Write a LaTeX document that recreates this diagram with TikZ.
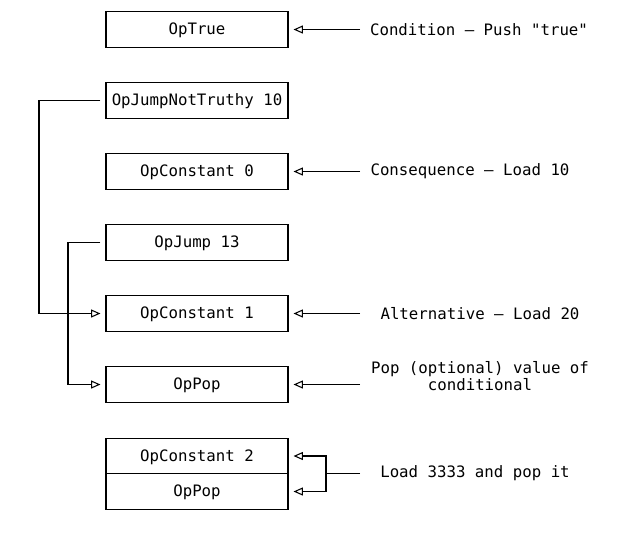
\documentclass[tikz,border=0pt]{standalone}
\usepackage{fontspec}
\setmainfont{DejaVu Sans Mono}
\usetikzlibrary{arrows.meta}
\tikzset{
  op/.style={draw, line width=0.8pt, minimum width=136.5pt, minimum height=26.6pt, inner sep=0pt, text height=0.9em, text depth=0.1em},
  jmp/.style={line width=0.8pt, -{Triangle[open,length=7pt,width=6pt]}},
}
\begin{document}
\begin{tikzpicture}[x=0.75pt,y=-0.75pt,font=\fontsize{11.8}{12.75}\selectfont]
\useasboundingbox (0,0) rectangle (638,537);
\node[op] (I1) at (197,29.5) {OpTrue};
\node[op] (I2) at (197,100.5) {OpJumpNotTruthy 10};
\node[op] (I3) at (197,171.5) {OpConstant 0};
\node[op] (I4) at (197,242.5) {OpJump 13};
\node[op] (I5) at (197,313.5) {OpConstant 1};
\node[op] (I6) at (197,384.5) {OpPop};
\node[op] (I7) at (197,456) {OpConstant 2};
\node[op] (I8) at (197,491.5) {OpPop};
\coordinate (L2) at (39,100.5);
\coordinate (L4) at (68,242.5);
\draw[jmp] ([xshift=-3.75pt]I2.west) -- (L2) |- ([xshift=-3.75pt]I5.west);
\draw[jmp] ([xshift=-3.75pt]I4.west) -- (L4) |- ([xshift=-3.75pt]I6.west);
\node (T1) at (479,29.5) {Condition – Push \textquotedbl true\textquotedbl};
\node (T3) at (470,171.5) {Consequence – Load 10};
\node (T5) at (480,313.5) {Alternative – Load 20};
\node[align=center] (T6) at (480,376) {Pop (optional) value of\\conditional};
\node (T7) at (475,473.5) {Load 3333 and pop it};
\coordinate (R1) at (360,29.5);
\coordinate (R3) at (360,171.5);
\coordinate (R5) at (360,313.5);
\coordinate (R6) at (360,384.5);
\coordinate (R7) at (360,473.5);
\coordinate (B7) at (326,473.5);
\draw[jmp] (R1) -- ([xshift=3.75pt]I1.east);
\draw[jmp] (R3) -- ([xshift=3.75pt]I3.east);
\draw[jmp] (R5) -- ([xshift=3.75pt]I5.east);
\draw[jmp] (R6) -- ([xshift=3.75pt]I6.east);
\draw[line width=0.8pt] (R7) -- (B7);
\draw[jmp] (B7) |- ([xshift=3.75pt]I7.east);
\draw[jmp] (B7) |- ([xshift=3.75pt]I8.east);
\end{tikzpicture}
\end{document}
